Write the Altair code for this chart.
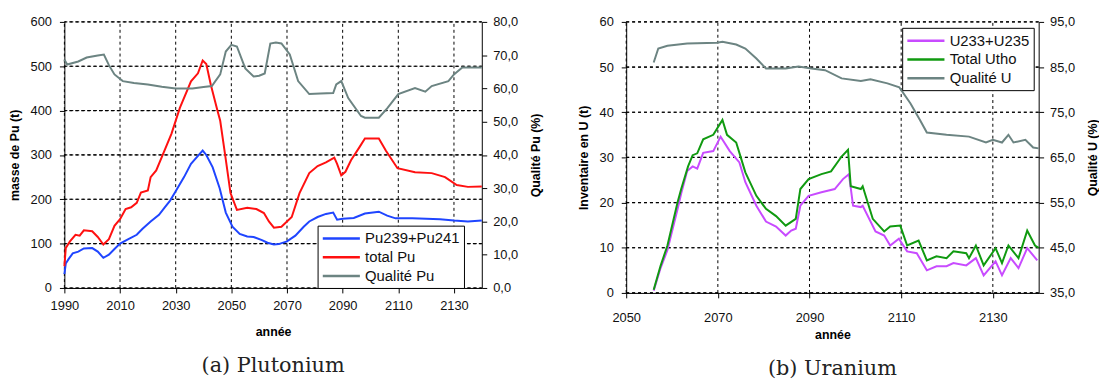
import altair as alt
import pandas as pd

# ---------------- Panel (a) Plutonium ----------------
pu_fiss_years = [1990, 1990.5, 1991.5, 1993, 1995, 1997, 2000, 2002, 2004, 2006, 2008, 2010, 2013, 2016,
                 2018, 2021, 2024, 2026, 2028, 2030, 2033, 2035.5, 2038, 2039.7, 2041, 2043.3, 2045.8, 2048,
                 2050.4, 2053, 2055.7, 2058, 2061, 2063, 2065.3, 2067, 2070, 2073, 2076, 2078, 2081, 2084,
                 2086.6, 2088, 2090, 2094, 2098, 2103, 2106, 2109, 2115, 2120, 2125, 2130, 2135, 2140]
pu_fiss_values = [31, 55, 65, 78, 82, 89, 90, 82, 68, 75, 88, 100, 110, 120,
                  133, 150, 165, 181, 197, 218, 250, 280, 298, 310, 300, 272, 225, 170,
                  138, 122, 116, 115, 108, 102, 98, 99, 105, 118, 138, 150, 160, 167,
                  170, 154, 156, 158, 168, 172, 163, 157, 157, 156, 155, 152, 150, 152]

pu_total_years = [1990, 1990.5, 1992, 1994, 1995.5, 1997, 2000, 2002, 2004, 2006, 2008, 2010, 2012, 2014,
                  2016, 2017.5, 2020, 2021, 2023, 2025, 2028.5, 2031.5, 2035.5, 2038, 2039.7, 2041, 2042.6,
                  2045, 2046, 2048, 2049.7, 2052, 2055.7, 2059, 2061.7, 2063.5, 2065.3, 2068, 2071.7, 2074.5,
                  2078, 2081, 2084, 2087, 2088, 2089.5, 2091, 2093, 2096, 2098, 2103, 2105.5, 2109.7, 2116,
                  2122, 2126.8, 2131, 2135, 2140]
pu_total_values = [49, 90, 105, 120, 118, 130, 128, 115, 98, 110, 140, 155, 178, 182,
                   192, 215, 220, 250, 265, 295, 348, 406, 466, 484, 513, 505, 459,
                   400, 377, 290, 214, 176, 181, 178, 169, 150, 136, 138, 160, 214,
                   259, 275, 283, 294, 280, 254, 262, 288, 317, 337, 337, 310, 270, 261,
                   259, 250, 232, 228, 229]

pu_qual_years = [1990, 1991, 1995, 1998, 2002, 2004.2, 2006, 2008, 2011, 2015, 2020, 2025, 2030, 2036,
                 2040, 2043, 2046, 2048, 2050, 2052, 2055, 2058, 2060, 2062, 2064, 2066, 2068, 2071, 2074,
                 2078, 2082, 2086.6, 2087.7, 2089.5, 2092, 2096.6, 2098, 2103, 2106, 2110, 2116, 2119.7,
                 2122, 2128, 2130, 2133, 2140]
pu_qual_values = [68.7, 67.2, 68.1, 69.3, 69.9, 70.2, 67.0, 64.2, 62.2, 61.6, 61.2, 60.5, 60.0, 60.0,
                  60.4, 60.7, 64.2, 71.1, 73.1, 72.6, 66.0, 63.6, 63.8, 64.5, 73.5, 73.8, 73.5, 70.2, 62.2,
                  58.3, 58.5, 58.6, 61.2, 62.2, 57.1, 51.7, 51.2, 51.2, 54.0, 58.3, 60.1, 59.0,
                  60.7, 62.2, 64.2, 66.3, 66.3]

# ---------------- Panel (b) Uranium ----------------
u_fiss_years = [2056, 2057.5, 2059, 2061.2, 2062, 2063.3, 2064.5, 2065.5, 2066.8, 2069, 2070.6, 2072.6,
                2074.7, 2076, 2078.4, 2080.5, 2082.7, 2084.8, 2086, 2087, 2088, 2089.8, 2092.6, 2095.5,
                2097.3, 2098.6, 2099.5, 2101.2, 2101.6, 2104.4, 2106.3, 2107.6, 2109.5, 2111.3, 2113.4,
                2115.6, 2117.7, 2119.9, 2121.4, 2124.2, 2126.3, 2128, 2130.6, 2132, 2133.9, 2135.6,
                2137.5, 2139.7]
u_fiss_values = [0.5, 5.5, 9.5, 18.5, 22, 27, 28, 27.5, 31, 31.4, 34.6, 31.4,
                 28.9, 24.5, 19.3, 15.8, 14.7, 12.7, 13.8, 14.2, 19.3, 21.5, 22.3, 23,
                 25.2, 26.3, 19.3, 19, 19.3, 13.6, 12.7, 10.5, 12, 9.2, 8.8,
                 5, 5.9, 5.9, 6.6, 6.1, 7.7, 3.9, 7, 3.9, 7.7, 5.5,
                 9.9, 7.2]

u_total_years = [2056, 2057.5, 2059, 2061.2, 2062, 2063.5, 2064.5, 2065.5, 2066.8, 2069, 2071, 2072, 2074,
                 2075, 2076, 2078.4, 2080.5, 2082.7, 2084.8, 2087, 2088, 2089.8, 2092.6, 2094.7, 2097,
                 2098.4, 2099, 2101.2, 2101.6, 2103.8, 2106.3, 2107.6, 2109.8, 2111.3, 2113.8, 2115.6,
                 2117.7, 2119.9, 2121.4, 2124.2, 2124.8, 2126.3, 2128, 2130.6, 2132, 2133.4, 2135.6,
                 2137.5, 2139.2, 2140]
u_total_values = [0.7, 6, 10.5, 20, 23, 28, 30.5, 30.9, 34, 35, 38.3, 35, 33.3,
                  30, 26.7, 21.5, 18.6, 17, 14.9, 16.4, 23, 25.2, 26.3, 26.9, 30.2,
                  31.7, 23.6, 23, 23.6, 16.4, 13.6, 14.7, 14.9, 10.5, 11.6, 7.2,
                  8.1, 7.7, 9.2, 8.8, 7.7, 10.5, 6.1, 9.9, 6.6, 10.5, 7.7,
                  13.8, 10.5, 10]

u_qual_years = [2056, 2057, 2059, 2063.3, 2069.8, 2071, 2074, 2076, 2078.4, 2080.5, 2084.8, 2087.6, 2090.4,
                2093.4, 2097, 2101.2, 2103.3, 2107, 2109.6, 2112, 2114.1, 2115.6, 2119.9, 2124.8, 2128.5,
                2130, 2132, 2133.4, 2134.5, 2137.1, 2138.8, 2140]
u_qual_values = [86.0, 89.1, 89.7, 90.2, 90.4, 90.6, 90.0, 89.1, 86.9, 84.7, 84.7, 85.1, 84.7,
                 84.3, 82.5, 81.9, 82.3, 81.4, 80.5, 77.0, 73.3, 70.5, 70.0, 69.6, 68.3,
                 68.9, 68.3, 70.0, 68.3, 68.9, 67.2, 67.0]

PU_SERIES = ["Pu239+Pu241", "total Pu", "Qualité Pu"]
PU_COLORS = ["#1f45ff", "#ff1010", "#6c8482"]
U_SERIES = ["U233+U235", "Total Utho", "Qualité U"]
U_COLORS = ["#c84bff", "#109a10", "#6c8482"]

PU_X_TICKS = [1990, 2010, 2030, 2050, 2070, 2090, 2110, 2130]
PU_LEFT_TICKS = [0, 100, 200, 300, 400, 500, 600]
PU_RIGHT_TICKS = [0, 10, 20, 30, 40, 50, 60, 70, 80]
U_X_TICKS = [2050, 2070, 2090, 2110, 2130]
U_LEFT_TICKS = [0, 10, 20, 30, 40, 50, 60]
U_RIGHT_TICKS = [35, 45, 55, 65, 75, 85, 95]

AXIS_FONT = "Liberation Sans"


def frame(parts):
    rows = []
    for name, ys, vs in parts:
        for y, v in zip(ys, vs):
            rows.append({"year": y, "value": v, "series": name})
    return pd.DataFrame(rows)


def grid_frame(xdom, xticks, ldom, lticks):
    # two end points per grid line, taken from the tick lists and the scale domains
    rows = []
    for i, t in enumerate(xticks):
        rows.append({"year": t, "value": ldom[0], "seg": "v%d" % i, "pt": 0})
        rows.append({"year": t, "value": ldom[1], "seg": "v%d" % i, "pt": 1})
    for i, t in enumerate(lticks):
        rows.append({"year": xdom[0], "value": t, "seg": "h%d" % i, "pt": 0})
        rows.append({"year": xdom[1], "value": t, "seg": "h%d" % i, "pt": 1})
    return pd.DataFrame(rows)


def axis_common(**kw):
    base = dict(labelFont=AXIS_FONT, labelFontSize=13, labelColor="#111", labelFlush=False,
                titleFont=AXIS_FONT, titleFontSize=12.5, titleFontWeight="bold", titleColor="#000",
                domainColor="#000", domainWidth=1, tickColor="#000", tickSize=5, grid=False)
    base.update(kw)
    return alt.Axis(**base)


def panel(left_df, right_df, series, colors, xdom, xticks, ldom, lticks, rdom, rticks,
          ltitle, rtitle, w, h, lx, ly, caption, xlabpad, xtitlepad):
    color = alt.Color(
        "series:N",
        scale=alt.Scale(domain=series, range=colors),
        legend=alt.Legend(title=None, orient="none", legendX=lx, legendY=ly,
                          symbolType="M-2.5,0H2.5", symbolSize=225, symbolStrokeWidth=2.5,
                          symbolOffset=11, symbolFillColor="transparent",
                          labelFont=AXIS_FONT, labelFontSize=15, labelColor="#111",
                          labelOffset=15, rowPadding=2, padding=4,
                          strokeColor="#000", fillColor="#fff"),
    )
    x = alt.X("year:Q", scale=alt.Scale(domain=xdom, nice=False, zero=False),
              axis=axis_common(values=xticks, format="d", title="année",
                               labelPadding=xlabpad, titlePadding=xtitlepad))
    y_left = alt.Y("value:Q", scale=alt.Scale(domain=ldom, nice=False),
                   axis=axis_common(orient="left", values=lticks, title=ltitle,
                                    labelPadding=8, titlePadding=9))
    grid = alt.Chart(grid_frame(xdom, xticks, ldom, lticks)).mark_line(
        stroke="#000000", strokeDash=[3, 3], strokeWidth=1).encode(
        x=x, y=y_left, detail="seg:N", order="pt:Q")
    grid_h = alt.Chart(pd.DataFrame({"gv": lticks})).mark_rule(
        stroke="#000000", strokeDash=[3, 3], strokeWidth=1.2).encode(
        y=alt.Y("gv:Q", scale=alt.Scale(domain=ldom, nice=False), axis=None))
    right = alt.Chart(right_df).mark_line(strokeWidth=2).encode(
        x=x,
        y=alt.Y("value:Q", scale=alt.Scale(domain=rdom, nice=False, zero=False),
                axis=axis_common(orient="right", values=rticks, title=rtitle,
                                 labelExpr="replace(format(datum.value, '.1f'), '.', ',')",
                                 titleAngle=270, titleBaseline="top",
                                 labelPadding=6, titlePadding=12)),
        color=color,
    )
    left = alt.Chart(left_df).mark_line(strokeWidth=2).encode(x=x, y=y_left, color=color)
    inner = alt.layer(grid, left)
    return alt.layer(grid_h, inner, right).resolve_scale(y="independent").properties(
        width=w, height=h,
        title=alt.TitleParams(caption, orient="bottom", anchor="middle", font="DejaVu Serif",
                              fontSize=21, fontWeight="normal", color="#222", offset=17),
    )


pu_left = frame([(PU_SERIES[0], pu_fiss_years, pu_fiss_values),
                 (PU_SERIES[1], pu_total_years, pu_total_values)])
pu_right = frame([(PU_SERIES[2], pu_qual_years, pu_qual_values)])
u_left = frame([(U_SERIES[0], u_fiss_years, u_fiss_values),
                (U_SERIES[1], u_total_years, u_total_values)])
u_right = frame([(U_SERIES[2], u_qual_years, u_qual_values)])

pa = panel(pu_left, pu_right, PU_SERIES, PU_COLORS, [1990, 2140], PU_X_TICKS, [0, 600], PU_LEFT_TICKS,
           [0, 80], PU_RIGHT_TICKS, "masse de Pu (t)", "Qualité Pu (%)", 422, 269, 256, 206,
           "(a) Plutonium", 7, 13)
pb = panel(u_left, u_right, U_SERIES, U_COLORS, [2050, 2140], U_X_TICKS, [0, 60], U_LEFT_TICKS,
           [35, 95], U_RIGHT_TICKS, "Inventaire en U (t)", "Qualité U (%)", 417, 274, 279, 6,
           "(b) Uranium", 14, 4)

chart = (
    alt.hconcat(pa, pb, spacing=35)
    .resolve_scale(color="independent")
    .resolve_legend(color="independent")
    .properties(padding={"left": 0, "top": 6, "right": 0, "bottom": 0})
    .configure_view(strokeWidth=0)
)

chart.save("out.html", embed_options={"renderer": "svg", "actions": False})
